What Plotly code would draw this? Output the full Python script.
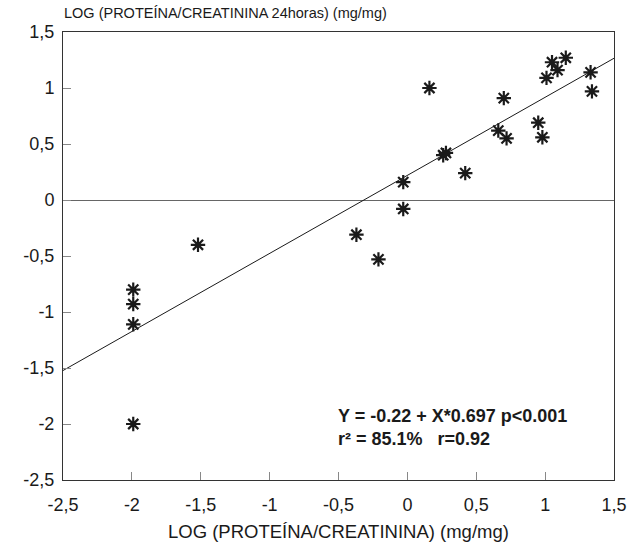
import plotly.graph_objects as go

# Data
x_values = [-1.99, -1.99, -1.99, -1.99, -1.52, -0.37, -0.21, -0.03, -0.03,
            0.16, 0.26, 0.28, 0.42, 0.66, 0.70, 0.72, 0.95, 0.98,
            1.01, 1.05, 1.09, 1.15, 1.33, 1.34]
y_values = [-0.80, -0.93, -1.11, -2.00, -0.40, -0.31, -0.53, -0.08, 0.16,
            1.00, 0.40, 0.42, 0.24, 0.62, 0.91, 0.55, 0.69, 0.56,
            1.09, 1.23, 1.16, 1.27, 1.14, 0.97]

reg_intercept = 0.22
reg_slope = 0.697
line_x = [-2.5, 1.5]
line_y = [reg_intercept + reg_slope * v for v in line_x]

tick_vals = [-2.5, -2, -1.5, -1, -0.5, 0, 0.5, 1, 1.5]
tick_text = ["-2,5", "-2", "-1,5", "-1", "-0,5", "0", "0,5", "1", "1,5"]

x_title = "LOG (PROTEÍNA/CREATININA) (mg/mg)"
y_title = "LOG (PROTEÍNA/CREATININA 24horas) (mg/mg)"
stats_text = "<b>Y = -0.22 + X*0.697 p<0.001</b><br><b>r² = 85.1%\u00a0\u00a0\u00a0r=0.92</b>"
stats_pos = (-0.52, -2.03)

FONT = "Liberation Sans, Arial, Helvetica, sans-serif"
INK = "#1a1a1a"

fig = go.Figure()
fig.add_trace(go.Scatter(x=line_x, y=line_y, mode="lines",
                         line=dict(color=INK, width=1), hoverinfo="skip",
                         showlegend=False))
fig.add_trace(go.Scatter(x=x_values, y=y_values, mode="markers",
                         marker=dict(symbol="asterisk-open", size=12, color=INK,
                                     line=dict(color=INK, width=2.2)),
                         showlegend=False))

axis_common = dict(
    range=[-2.5, 1.5], tickvals=tick_vals, ticktext=tick_text,
    ticks="inside", ticklen=8, tickwidth=1, tickcolor="#888",
    showgrid=False, showline=True, linecolor="#333", linewidth=1,
    mirror=True, tickfont=dict(family=FONT, size=18, color=INK),
)
fig.update_xaxes(**axis_common, zeroline=False, ticklabelstandoff=8)
fig.update_yaxes(**axis_common, zeroline=True, zerolinecolor="#666",
                 zerolinewidth=1.2, ticklabelstandoff=4)

fig.add_annotation(text=y_title, xref="paper", yref="paper", x=0, y=1,
                   xanchor="left", yanchor="middle", yshift=19, xshift=-1,
                   showarrow=False,
                   font=dict(family=FONT, size=14.5, color=INK))
fig.add_annotation(text=x_title, xref="paper", yref="paper", x=0.5, y=0,
                   xanchor="center", yanchor="middle", yshift=-51,
                   showarrow=False,
                   font=dict(family=FONT, size=18.5, color=INK))
fig.add_annotation(text=stats_text, xref="x", yref="y",
                   x=stats_pos[0], y=stats_pos[1],
                   xanchor="left", yanchor="middle", align="left",
                   showarrow=False,
                   font=dict(family=FONT, size=18, color=INK))

fig.update_layout(
    width=644, height=543,
    margin=dict(l=63, r=30, t=32, b=63),
    paper_bgcolor="white", plot_bgcolor="white",
    font=dict(family=FONT, color=INK),
)

fig.write_html("out.html", config={"displayModeBar": False},
               post_script="document.body.style.margin='0px';")
